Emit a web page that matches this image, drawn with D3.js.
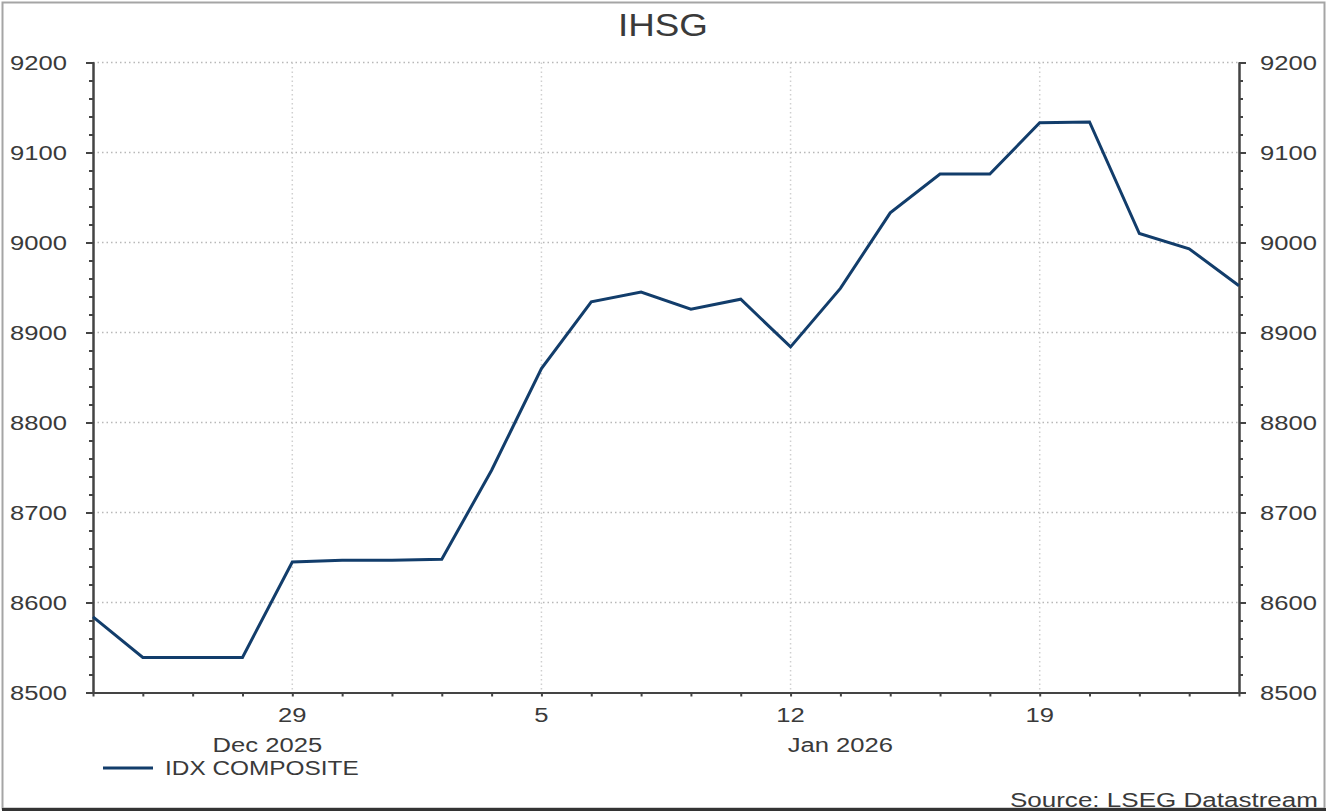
<html>
  <head>
    <style>
      body { margin: 0; background: #fff; }
      text { font-family: "Liberation Sans", Arial, sans-serif; fill: #3a3a3a; }
    </style>
    <script src="https://cdn.jsdelivr.net/npm/d3@7"></script>
  </head>
  <body>
    <svg id="container" height="812" width="1329"></svg>
  <script>
    // business days shown on the chart
    const dates = ["2025-12-23", "2025-12-24", "2025-12-25", "2025-12-26",
      "2025-12-29", "2025-12-30", "2025-12-31", "2026-01-01", "2026-01-02",
      "2026-01-05", "2026-01-06", "2026-01-07", "2026-01-08", "2026-01-09",
      "2026-01-12", "2026-01-13", "2026-01-14", "2026-01-15", "2026-01-16",
      "2026-01-19", "2026-01-20", "2026-01-21", "2026-01-22", "2026-01-23"];
    const idxComposite = [8584, 8539, 8539, 8539, 8645, 8647, 8647, 8648, 8747,
      8860, 8934, 8945, 8926, 8937, 8884, 8949, 9033, 9076, 9076, 9133, 9134,
      9010, 8993, 8952];
    const dayLabels = { "2025-12-29": "29", "2026-01-05": "5", "2026-01-12": "12", "2026-01-19": "19" };
    const months = [
      { label: "Dec 2025", from: "2025-12-23", to: "2026-01-01" },
      { label: "Jan 2026", from: "2026-01-01", to: "2026-01-23" }
    ];
    const majorTicks = [8500, 8600, 8700, 8800, 8900, 9000, 9100, 9200];

    const svg = d3.select("#container");
    const plotLeft = 93, plotRight = 1239, plotTop = 62.5, plotBottom = 692.5;
    const lineColor = "#123d6b";
    const sx = 1.22; // the source's lettering is a little wide

    const x = d3.scaleLinear().domain([0, dates.length - 1]).range([plotLeft, plotRight]);
    const y = d3.scaleLinear().domain([8500, 9200]).range([plotBottom, plotTop]);
    const xi = d => x(dates.indexOf(d));

    function label(g, px, py, str, size, anchor, scale) {
      g.append("g")
        .attr("transform", `translate(${px},${py})`)
        .append("text")
        .attr("transform", `scale(${scale || sx},1)`)
        .attr("text-anchor", anchor)
        .attr("dy", "0.36em")
        .style("font-size", size + "px")
        .text(str);
    }

    // frame
    svg.append("rect").attr("x", 2.5).attr("y", 2.5).attr("width", 1322).attr("height", 806)
      .attr("fill", "none").attr("stroke", "#a5a5a5").attr("stroke-width", 2);
    svg.append("line").attr("x1", 2).attr("x2", 1326).attr("y1", 809.5).attr("y2", 809.5)
      .attr("stroke", "#333").attr("stroke-width", 3);

    // grid
    const grid = svg.append("g");
    grid.selectAll(".h").data(majorTicks.slice(1)).join("line")
      .attr("x1", plotLeft).attr("x2", plotRight)
      .attr("y1", d => y(d)).attr("y2", d => y(d))
      .attr("stroke", "#b8b8b8").attr("stroke-width", 1.5).attr("stroke-dasharray", "1.5,3");
    grid.selectAll(".v").data(Object.keys(dayLabels)).join("line")
      .attr("x1", d => xi(d)).attr("x2", d => xi(d))
      .attr("y1", plotTop).attr("y2", plotBottom)
      .attr("stroke", "#cfcfcf").attr("stroke-width", 1.5).attr("stroke-dasharray", "1.5,3");

    // axes
    const minor = d3.range(8500, 9201, 20);
    function yAxes(axisFn, pos) {
      svg.append("g").attr("transform", `translate(${pos},0)`)
        .call(axisFn(y).tickValues(minor).tickSize(4).tickFormat(""))
        .call(g => g.selectAll("line, path").attr("stroke", "#444").attr("stroke-width", 2));
      svg.append("g").attr("transform", `translate(${pos},0)`)
        .call(axisFn(y).tickValues(majorTicks).tickSize(7).tickSizeOuter(0).tickFormat(""))
        .call(g => g.selectAll("line, path").attr("stroke", "#444").attr("stroke-width", 2));
    }
    yAxes(d3.axisLeft, plotLeft);
    yAxes(d3.axisRight, plotRight);

    svg.append("g").attr("transform", `translate(0,${plotBottom})`)
      .call(d3.axisBottom(x).tickValues(d3.range(dates.length)).tickSize(4).tickSizeOuter(0).tickFormat(""))
      .call(g => g.selectAll("line, path").attr("stroke", "#444").attr("stroke-width", 2));

    const labels = svg.append("g");
    majorTicks.forEach(v => {
      label(labels, 67, y(v), v, 21, "end");
      label(labels, 1260, y(v), v, 21, "start");
    });
    Object.entries(dayLabels).forEach(([d, t]) => label(labels, xi(d), 714, t, 21, "middle"));
    months.forEach(m => label(labels, (xi(m.from) + xi(m.to)) / 2, 744, m.label, 21, "middle"));

    // series
    const line = d3.line().x((d, i) => x(i)).y(d => y(d));
    svg.append("path").datum(idxComposite)
      .attr("d", line)
      .attr("fill", "none").attr("stroke", lineColor).attr("stroke-width", 3)
      .attr("stroke-linejoin", "miter");

    // title, legend, source
    label(svg, 663, 24, "IHSG", 32, "middle", 1.15);
    svg.append("line").attr("x1", 103).attr("x2", 153).attr("y1", 768).attr("y2", 768)
      .attr("stroke", lineColor).attr("stroke-width", 3);
    label(svg, 165, 768, "IDX COMPOSITE", 20, "start");
    label(svg, 1318, 799, "Source: LSEG Datastream", 21, "end", 1.24);
  </script>
  </body>
</html>
